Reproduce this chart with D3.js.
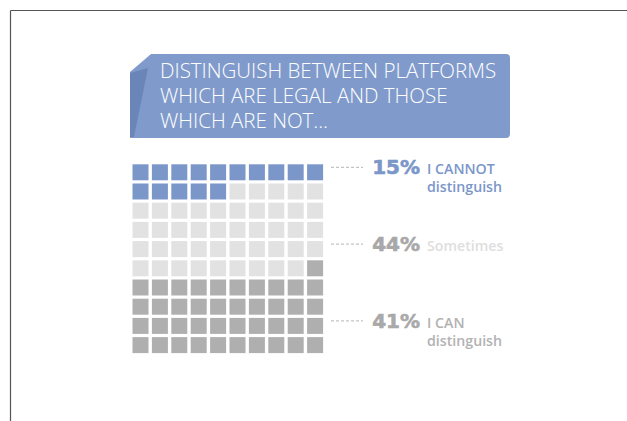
<!DOCTYPE html>
<html>
<head>
<meta charset="utf-8">
<script src="https://cdn.jsdelivr.net/npm/d3@7"></script>
<style>
  body { margin: 0; background: #fff; }
  svg { display: block; }
</style>
</head>
<body>
<div id="chart"></div>
<script>
// data
const titleLines = ["DISTINGUISH BETWEEN PLATFORMS", "WHICH ARE LEGAL AND THOSE", "WHICH ARE NOT..."];
const categories = ["cannot", "sometimes", "can"];
const percents = [15, 44, 41];
const labelLines = [["I CANNOT", "distinguish"], ["Sometimes"], ["I CAN", "distinguish"]];
const colors = ["#7b97c9", "#e2e2e2", "#afafaf"];
const numColors = ["#7b97c9", "#a8a8a8", "#a9a9a9"];
const textColors = ["#7b97c9", "#dedede", "#b2b2b2"];
const labelRows = [0, 4, 8];

const W = 627, H = 421;

const svg = d3.select("#chart").append("svg")
    .attr("width", W)
    .attr("height", H);

// frame lines (top + left)
svg.append("line").attr("x1", 10.5).attr("y1", 10.5).attr("x2", W).attr("y2", 10.5)
    .attr("stroke", "#555").attr("stroke-width", 1.2);
svg.append("line").attr("x1", 10.5).attr("y1", 10.5).attr("x2", 10.5).attr("y2", H)
    .attr("stroke", "#555").attr("stroke-width", 1.2);

// title banner
const banner = svg.append("g");
banner.append("path")
    .attr("d", "M151,54 L506,54 Q510,54 510,58 L510,134 Q510,138 506,138 L130,138 L130,72 Z")
    .attr("fill", "#809bcb");
banner.append("path")
    .attr("d", "M130,73 L148,68 L134,137 L130,137 Z")
    .attr("fill", "#6a86b8");

banner.selectAll("text")
    .data(titleLines)
    .enter().append("text")
    .attr("x", 160)
    .attr("y", (d, i) => 78 + i * 25)
    .attr("fill", "#fff")
    .attr("font-family", "'Open Sans', sans-serif")
    .attr("font-weight", 300)
    .attr("font-size", 20.5)
    .text(d => d);

// waffle cells: 100 cells filled in order from the percentages
const cells = [];
categories.forEach((c, ci) => {
  for (let k = 0; k < percents[ci]; k++) cells.push({ cat: ci });
});
cells.forEach((d, i) => { d.col = i % 10; d.row = Math.floor(i / 10); });

const x = d3.scaleBand().domain(d3.range(10)).range([132.5, 323.1]).paddingInner(0.175);
const y = d3.scaleBand().domain(d3.range(10)).range([164.3, 353.1]).paddingInner(0.167);

svg.append("g").selectAll("rect")
    .data(cells)
    .enter().append("rect")
    .attr("x", d => x(d.col))
    .attr("y", d => y(d.row))
    .attr("width", x.bandwidth())
    .attr("height", y.bandwidth())
    .attr("fill", d => colors[d.cat]);

// labels
const lab = svg.append("g").selectAll("g")
    .data(categories)
    .enter().append("g")
    .attr("transform", (d, i) => "translate(0," + (y(labelRows[i]) + y.bandwidth() / 2) + ")");

lab.append("line")
    .attr("x1", 331).attr("x2", 363)
    .attr("y1", -5).attr("y2", -5)
    .attr("stroke", "#b5b5b5")
    .attr("stroke-width", 1)
    .attr("stroke-dasharray", "3,2");

lab.append("text")
    .attr("x", 420)
    .attr("y", 2)
    .attr("text-anchor", "end")
    .attr("fill", (d, i) => numColors[i])
    .attr("stroke", (d, i) => numColors[i])
    .attr("stroke-width", 0.6)
    .attr("font-family", "'DejaVu Sans', sans-serif")
    .attr("font-weight", "bold")
    .attr("font-size", 20)
    .text((d, i) => percents[i] + "%");

lab.each(function (d, i) {
  d3.select(this).selectAll("text.lbl")
      .data(labelLines[i])
      .enter().append("text")
      .attr("class", "lbl")
      .attr("x", 427)
      .attr("y", (t, j) => 2 + j * 18)
      .attr("fill", textColors[i])
      .attr("font-family", "'Open Sans', sans-serif")
      .attr("font-weight", 600)
      .attr("font-size", 14.2)
      .text(t => t);
});
</script>
</body>
</html>
